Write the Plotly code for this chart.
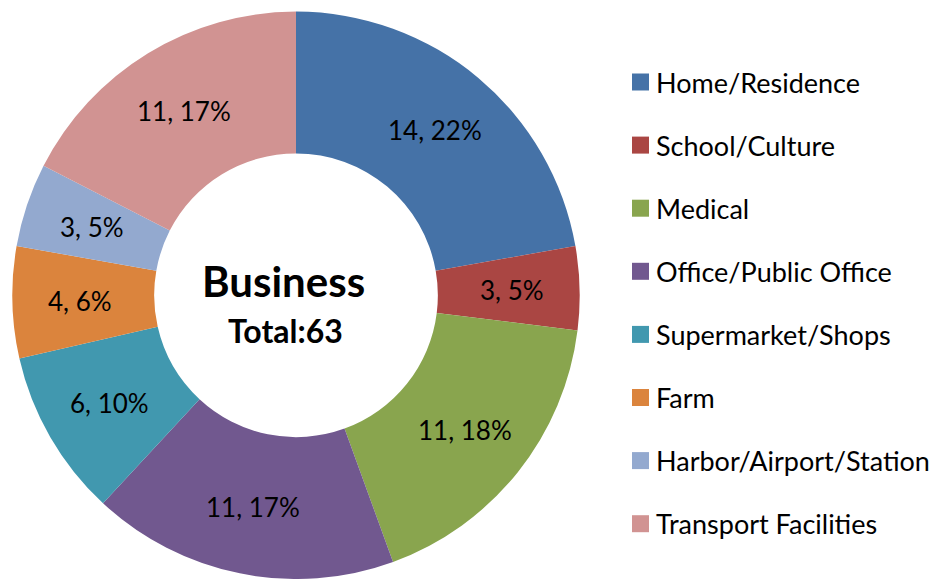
import math
import plotly.graph_objects as go

categories = ["Home/Residence", "School/Culture", "Medical", "Office/Public Office",
              "Supermarket/Shops", "Farm", "Harbor/Airport/Station", "Transport Facilities"]
counts = [14, 3, 11, 11, 6, 4, 3, 11]
percent_labels = ["22%", "5%", "18%", "17%", "10%", "6%", "5%", "17%"]
colors = ["#4572A7", "#AA4643", "#89A54E", "#71588F", "#4198AF", "#DB843D", "#93A9CF", "#D19392"]
center_title = "Business"
center_total = "Total:63"

FONT = "Lato, 'Open Sans', sans-serif"
W, H = 937, 579
HOLE = 0.5

# pie domain (paper fractions)
dom_x = [11 / W, 581 / W]
dom_y = [0.0, 0.98]

fig = go.Figure()
fig.add_trace(go.Pie(
    labels=categories,
    values=counts,
    text=percent_labels,
    textinfo="none",
    marker=dict(colors=colors, line=dict(width=0)),
    hole=HOLE,
    sort=False,
    direction="clockwise",
    rotation=0,
    showlegend=False,
    domain=dict(x=dom_x, y=dom_y),
    hovertemplate="%{label}: %{value}, %{text}<extra></extra>",
))

# geometry of the pie as plotly lays it out (pixels from top-left)
dw = (dom_x[1] - dom_x[0]) * W
dh = (dom_y[1] - dom_y[0]) * H
R = min(dw, dh) / 2
cx = (dom_x[0] + dom_x[1]) / 2 * W
cy = H - (dom_y[0] + dom_y[1]) / 2 * H
r_lab = 0.76 * R

annotations = []
total = sum(counts)
cum = 0
for v, p in zip(counts, percent_labels):
    ang = (cum + v / 2) / total * 2 * math.pi
    cum += v
    px = cx + r_lab * math.sin(ang)
    py = cy - r_lab * math.cos(ang)
    annotations.append(dict(text="%d, %s" % (v, p), x=px / W, y=1 - py / H,
                            xref="paper", yref="paper", xanchor="center", yanchor="middle",
                            showarrow=False, font=dict(family=FONT, size=26, color="black")))

annotations += [
    dict(text="<b>%s</b>" % center_title, x=283 / W, y=1 - 281 / H, xref="paper", yref="paper",
         xanchor="center", yanchor="middle", showarrow=False,
         font=dict(family=FONT, size=42, color="black")),
    dict(text="<b>%s</b>" % center_total, x=285 / W, y=1 - 330 / H, xref="paper", yref="paper",
         xanchor="center", yanchor="middle", showarrow=False,
         font=dict(family=FONT, size=32, color="black")),
]
shapes = []
y0, step = 82, 63.1
for i, (cat, col) in enumerate(zip(categories, colors)):
    yc = y0 + i * step
    shapes.append(dict(type="rect", xref="paper", yref="paper",
                       x0=632 / W, x1=649 / W, y0=1 - (yc + 8.5) / H, y1=1 - (yc - 8.5) / H,
                       fillcolor=col, line=dict(width=0)))
    annotations.append(dict(text=cat, x=654 / W, y=1 - yc / H, xref="paper", yref="paper",
                            xanchor="left", yanchor="middle", showarrow=False,
                            font=dict(family=FONT, size=27, color="black")))

fig.update_layout(
    width=W, height=H,
    margin=dict(l=0, r=0, t=0, b=0),
    paper_bgcolor="white",
    plot_bgcolor="white",
    annotations=annotations,
    shapes=shapes,
)
fig.write_html("out.html", config={"displayModeBar": False},
               post_script="document.body.style.margin='0';")
